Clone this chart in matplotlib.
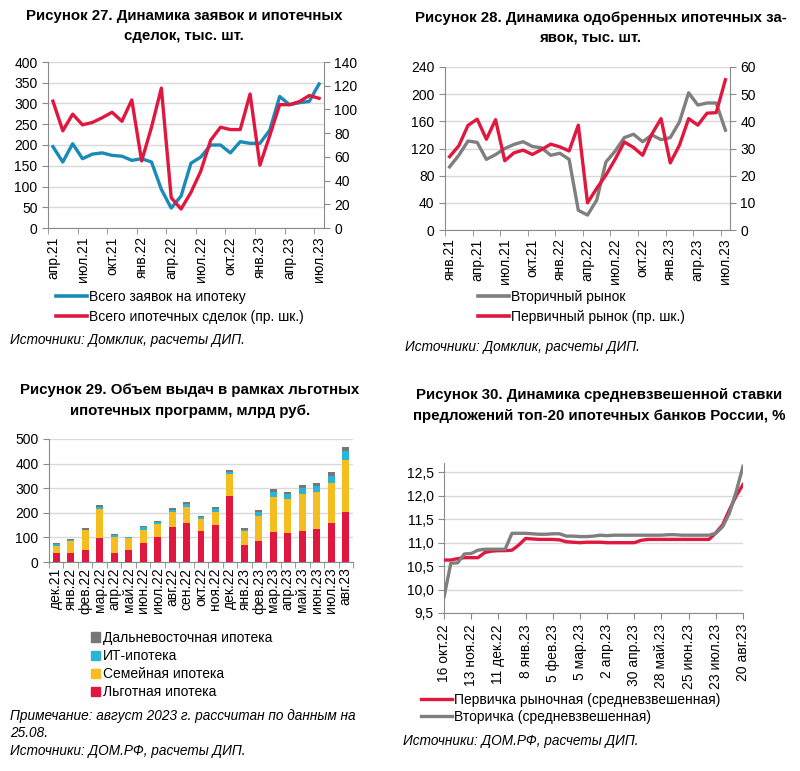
import matplotlib
matplotlib.use('Agg')
import matplotlib.pyplot as plt
from matplotlib.patches import Patch
from matplotlib.lines import Line2D
import numpy as np

plt.rcParams['font.family'] = ['Liberation Sans', 'DejaVu Sans']
plt.rcParams['font.size'] = 10

W, H = 800, 771
fig = plt.figure(figsize=(W / 100, H / 100), dpi=100)

BLUE = '#1a8ab8'
RED = '#e0173f'
GREY = '#7f7f7f'
YELLOW = '#f5bd1f'
CYAN = '#29b5d8'
DGREY = '#777777'
GRID = '#d9d9d9'
SPINE = '#8a8a8a'

mon = ['янв', 'фев', 'мар', 'апр', 'май', 'июн', 'июл', 'авг', 'сен', 'окт', 'ноя', 'дек']


def month_labels(start_m, start_y, n):
    out = []
    m, y = start_m, start_y
    for _ in range(n):
        out.append(f'{mon[m]}.{y}')
        m += 1
        if m == 12:
            m, y = 0, y + 1
    return out


# --- Рисунок 27: апр.21 - июл.23 ---
months27 = month_labels(3, 21, 28)
applications = [196, 159, 203, 167, 178, 181, 175, 173, 163, 167, 159, 93, 48, 77,
                156, 171, 200, 200, 181, 208, 204, 204, 236, 317, 297, 302, 305, 347]
deals = [107, 82, 96, 87, 89, 93, 97.6, 90, 108, 56.5, 85, 118, 25.5, 16,
         30, 48, 74, 85, 83, 83, 113, 53, 78, 104, 104, 106.6, 111.7, 109.4]

# --- Рисунок 28: янв.21 - июл.23 ---
months28 = month_labels(0, 21, 31)
secondary = [93, 110, 131, 129, 104, 111, 120, 126, 130, 123, 121, 110, 113, 104, 29,
             22, 44, 100, 116, 136, 141, 130, 140, 133, 136, 159, 202, 184, 187, 187, 147]
primary = [27, 31, 38.5, 40.8, 33.4, 40.6, 25.5, 28.4, 29.4, 27.8, 29.6, 31.6, 30.6, 29.1, 38.6,
           10, 15.3, 20.2, 26, 32.4, 30.4, 27.5, 35.3, 41, 24.7, 31.2, 41, 38.6, 43, 43.2, 55.3]

# --- Рисунок 29: дек.21 - авг.23 ---
months29 = month_labels(11, 21, 21)
lgotnaya = [37, 37, 48, 98, 37, 50, 78, 102, 143, 159, 125, 150, 270, 71, 86, 123, 116, 127, 136, 159, 204]
semeinaya = [28, 49, 81, 117, 65, 48, 51, 51, 59, 66, 49, 54, 88, 56, 102, 143, 139, 148, 149, 161, 212]
it_ipoteka = [10, 5, 3, 7, 6, 3, 13, 8, 9, 9, 7, 10, 7, 5, 16, 20, 22, 25, 24, 30, 34]
dv_ipoteka = [3, 4, 7, 10, 5, 1, 5, 7, 10, 8, 7, 8, 10, 7, 7, 11, 8, 12, 14, 14, 17]

# --- Рисунок 30: еженедельно 16 окт.22 - 20 авг.23 ---
week_labels = ['16 окт.22', '13 ноя.22', '11 дек.22', '8 янв.23', '5 фев.23', '5 мар.23',
               '2 апр.23', '30 апр.23', '28 май.23', '25 июн.23', '23 июл.23', '20 авг.23']
rate_primary = [10.63, 10.63, 10.66, 10.68, 10.68, 10.68, 10.79, 10.82, 10.83, 10.83, 10.84,
                10.95, 11.09, 11.08, 11.07, 11.07, 11.07, 11.06, 11.02, 11.01, 11.0, 11.01,
                11.01, 11.01, 11.0, 11.0, 11.0, 11.0, 11.0, 11.05, 11.07, 11.07, 11.07, 11.07,
                11.07, 11.07, 11.07, 11.07, 11.07, 11.07, 11.21, 11.38, 11.7, 12.0, 12.24]
rate_secondary = [9.84, 10.56, 10.57, 10.76, 10.77, 10.84, 10.86, 10.86, 10.86, 10.86, 11.2,
                  11.2, 11.2, 11.19, 11.18, 11.18, 11.19, 11.19, 11.14, 11.14, 11.13, 11.13,
                  11.14, 11.16, 11.15, 11.16, 11.16, 11.16, 11.16, 11.16, 11.16, 11.16, 11.16,
                  11.17, 11.17, 11.16, 11.16, 11.16, 11.16, 11.16, 11.2, 11.34, 11.63, 12.09, 12.63]


def box(x0, y0, x1, y1):
    return [x0 / W, 1 - y1 / H, (x1 - x0) / W, (y1 - y0) / H]


def fx(x):
    return x / W


def fy(y):
    return 1 - y / H


def style(ax):
    for s in ['top', 'right']:
        ax.spines[s].set_visible(False)
    for s in ['left', 'bottom']:
        ax.spines[s].set_color(SPINE)
    ax.grid(axis='y', color=GRID, linewidth=1)
    ax.set_axisbelow(True)
    ax.tick_params(colors=SPINE, labelcolor='black', labelsize=10, length=4, width=0.8)


def month_axis(ax, labels):
    n = len(labels)
    x = np.arange(n)
    ax.set_xlim(-0.5, n - 0.5)
    ax.set_xticks(x[::3])
    ax.set_xticklabels(labels[::3], rotation=90)
    ax.tick_params(axis='x', which='major', length=0, pad=6)
    ax.set_xticks(np.arange(-0.5, n - 0.5, 3), minor=True)
    ax.tick_params(axis='x', which='minor', length=4, color=SPINE)


def right_axis(ax):
    for s in ['top', 'left', 'bottom']:
        ax.spines[s].set_visible(False)
    ax.spines['right'].set_color(SPINE)
    ax.tick_params(colors=SPINE, labelcolor='black', labelsize=10, length=4, width=0.8)


title_kw = dict(fontsize=10.8, fontweight='bold', ha='center', va='center')
src_kw = dict(fontsize=9.8, style='italic', va='center')
leg_kw = dict(loc='upper left', bbox_transform=fig.transFigure, frameon=False, fontsize=10,
              borderpad=0, borderaxespad=0)

# ---------------- Chart 27 ----------------
fig.text(fx(184), fy(16), 'Рисунок 27. Динамика заявок и ипотечных', **title_kw)
fig.text(fx(184), fy(36), 'сделок, тыс. шт.', **title_kw)
ax1 = fig.add_axes(box(48, 62, 324, 228))
style(ax1)
x27 = np.arange(len(months27))
ax1.plot(x27, applications, color=BLUE, lw=2.4, zorder=3)
ax1.set_ylim(0, 400)
ax1.set_yticks(range(0, 401, 50))
month_axis(ax1, months27)
ax1r = ax1.twinx()
ax1r.plot(x27, deals, color=RED, lw=2.4, zorder=3)
ax1r.set_ylim(0, 140)
ax1r.set_yticks(range(0, 141, 20))
right_axis(ax1r)
ax1r.legend([Line2D([], [], color=BLUE, lw=2.6), Line2D([], [], color=RED, lw=2.6)],
            ['Всего заявок на ипотеку', 'Всего ипотечных сделок (пр. шк.)'],
            bbox_to_anchor=(fx(56), fy(290)), handlelength=2.2, handletextpad=0.15,
            labelspacing=0.45, **leg_kw)
fig.text(fx(10), fy(340), 'Источники: Домклик, расчеты ДИП.', **src_kw)

# ---------------- Chart 28 ----------------
fig.text(fx(601), fy(18), 'Рисунок 28. Динамика одобренных ипотечных за-', **title_kw)
fig.text(fx(590), fy(38), 'явок, тыс. шт.', **title_kw)
ax2 = fig.add_axes(box(445, 67, 730, 230))
style(ax2)
x28 = np.arange(len(months28))
ax2.plot(x28, secondary, color=GREY, lw=2.4, zorder=3)
ax2.set_ylim(0, 240)
ax2.set_yticks(range(0, 241, 40))
month_axis(ax2, months28)
ax2r = ax2.twinx()
ax2r.plot(x28, primary, color=RED, lw=2.4, zorder=3)
ax2r.set_ylim(0, 60)
ax2r.set_yticks(range(0, 61, 10))
right_axis(ax2r)
ax2r.legend([Line2D([], [], color=GREY, lw=2.6), Line2D([], [], color=RED, lw=2.6)],
            ['Вторичный рынок', 'Первичный рынок (пр. шк.)'],
            bbox_to_anchor=(fx(478), fy(290)), handlelength=2.2, handletextpad=0.15,
            labelspacing=0.45, **leg_kw)
fig.text(fx(405), fy(347), 'Источники: Домклик, расчеты ДИП.', **src_kw)

# ---------------- Chart 29 ----------------
fig.text(fx(190), fy(390), 'Рисунок 29. Объем выдач в рамках льготных', **title_kw)
fig.text(fx(190), fy(411), 'ипотечных программ, млрд руб.', **title_kw)
ax3 = fig.add_axes(box(49, 439, 353, 562))
style(ax3)
x29 = np.arange(len(months29))
b1 = np.array(lgotnaya, float)
b2 = b1 + np.array(semeinaya)
b3 = b2 + np.array(it_ipoteka)
bw = 0.48
ax3.bar(x29, lgotnaya, bw, color=RED, zorder=3)
ax3.bar(x29, semeinaya, bw, bottom=b1, color=YELLOW, zorder=3)
ax3.bar(x29, it_ipoteka, bw, bottom=b2, color=CYAN, zorder=3)
ax3.bar(x29, dv_ipoteka, bw, bottom=b3, color=DGREY, zorder=3)
ax3.set_ylim(0, 500)
ax3.set_yticks(range(0, 501, 100))
ax3.set_xlim(-0.5, len(months29) - 0.5)
ax3.set_xticks(x29)
ax3.set_xticklabels(months29, rotation=90)
ax3.tick_params(axis='x', which='major', length=0, pad=4)
ax3.set_xticks(np.arange(-0.5, len(months29), 1), minor=True)
ax3.tick_params(axis='x', which='minor', length=4, color=SPINE)
ax3.legend([Patch(color=DGREY), Patch(color=CYAN), Patch(color=YELLOW), Patch(color=RED)],
           ['Дальневосточная ипотека', 'ИТ-ипотека', 'Семейная ипотека', 'Льготная ипотека'],
           bbox_to_anchor=(fx(91), fy(631)), handlelength=0.65, handleheight=0.65,
           handletextpad=0.2, labelspacing=0.3, **leg_kw)
fig.text(fx(10), fy(716), 'Примечание: август 2023 г. рассчитан по данным на', **src_kw)
fig.text(fx(10), fy(733), '25.08.', **src_kw)
fig.text(fx(10), fy(751), 'Источники: ДОМ.РФ, расчеты ДИП.', **src_kw)

# ---------------- Chart 30 ----------------
fig.text(fx(599), fy(395), 'Рисунок 30. Динамика средневзвешенной ставки', **title_kw)
fig.text(fx(599), fy(416), 'предложений топ-20 ипотечных банков России, %', **title_kw)
ax4 = fig.add_axes(box(444, 463, 743, 613))
style(ax4)
x30 = np.arange(len(rate_primary))
ax4.plot(x30, rate_primary, color=RED, lw=2.4, zorder=3, label='Первичка рыночная (средневзвешенная)')
ax4.plot(x30, rate_secondary, color=GREY, lw=2.4, zorder=4, label='Вторичка (средневзвешенная)')
ax4.set_ylim(9.5, 12.7)
yt = np.arange(9.5, 12.51, 0.5)
ax4.set_yticks(yt)
ax4.set_yticklabels([f'{v:.1f}'.replace('.', ',') for v in yt])
ax4.set_xlim(0, len(rate_primary) - 1)
ax4.set_xticks(x30[::4])
ax4.set_xticklabels(week_labels, rotation=90)
ax4.tick_params(axis='x', pad=4)
ax4.legend(bbox_to_anchor=(fx(421), fy(693)), handlelength=2.2, handletextpad=0.15,
           labelspacing=0.2, **leg_kw)
fig.text(fx(403), fy(741), 'Источники: ДОМ.РФ, расчеты ДИП.', **src_kw)

fig.savefig('out.png', dpi=100)
